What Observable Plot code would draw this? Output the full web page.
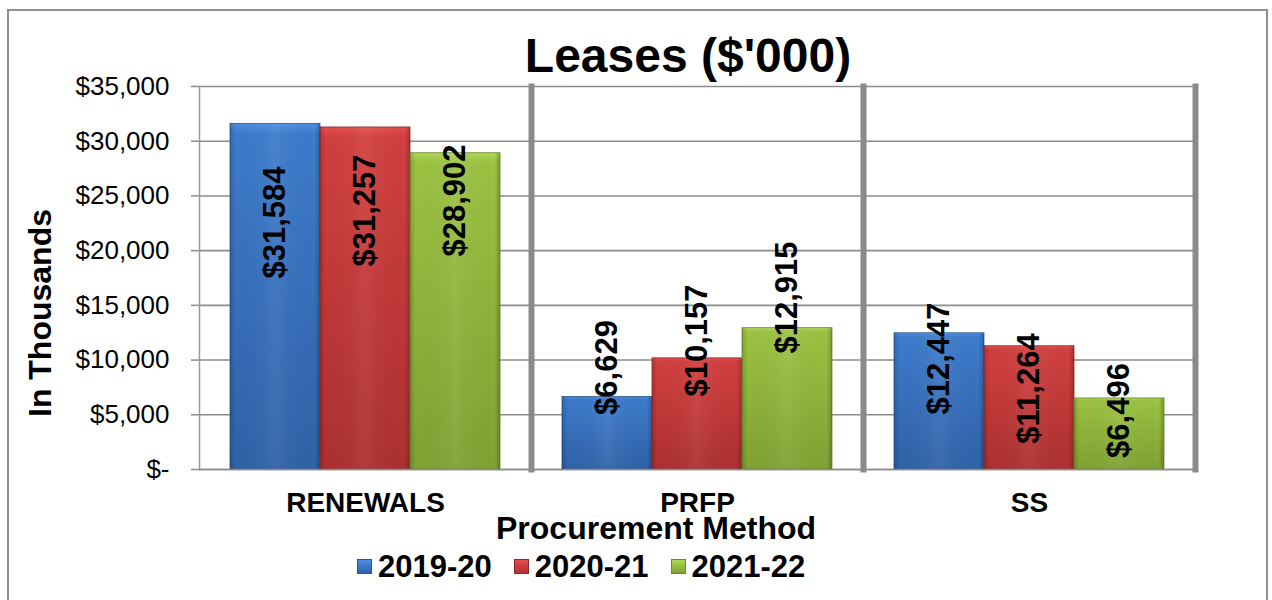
<!DOCTYPE html>
<html>
<head>
<meta charset="utf-8">
<script src="https://cdn.jsdelivr.net/npm/d3@7"></script>
<script src="https://cdn.jsdelivr.net/npm/@observablehq/plot@0.6"></script>
<style>
  body { margin: 0; background: #fff; font-family: "Liberation Sans", Arial, sans-serif; }
  #wrap { position: relative; width: 1272px; height: 600px; overflow: hidden; background: #fff; }
  #border { position: absolute; left: 7px; top: 9px; width: 1261px; height: 640px; border: 2px solid #8e8e8e; box-sizing: border-box; }
  #title { position: absolute; left: 288px; width: 800px; top: 32px; height: 48px; line-height: 48px; font-size: 48px; font-weight: bold; text-align: center; color: #000; white-space: nowrap; }
  #chart { position: absolute; left: 0; top: 70px; }
  #ytitle { position: absolute; left: -110px; top: 297px; width: 300px; height: 32px; line-height: 32px; font-size: 32px; font-weight: bold; text-align: center; transform: rotate(-90deg); transform-origin: 50% 50%; white-space: nowrap; }
  #xtitle { position: absolute; left: 456px; width: 400px; top: 512px; height: 32px; line-height: 32px; font-size: 32px; font-weight: bold; text-align: center; white-space: nowrap; }
  #legend { position: absolute; left: 357px; top: 551px; height: 31px; display: flex; align-items: center; font-size: 31px; line-height: 31px; font-weight: bold; white-space: nowrap; }
  .item { display: flex; align-items: center; margin-right: 22px; }
  .sw { width: 15px; height: 15px; margin-right: 6px; box-sizing: border-box; }
</style>
</head>
<body>
<div id="wrap">
  <div id="border"></div>
  <div id="title">Leases ($'000)</div>
  <div id="chart"></div>
  <div id="ytitle">In Thousands</div>
  <div id="xtitle">Procurement Method</div>
  <div id="legend"></div>
</div>
<script>
// ---- data ----
const categories = ["RENEWALS", "PRFP", "SS"];
const seriesNames = ["2019-20", "2020-21", "2021-22"];
const values2019 = [31584, 6629, 12447];
const values2020 = [31257, 10157, 11264];
const values2021 = [28902, 12915, 6496];
// where each rotated value label sits (in $ thousands)
const labelAt2019 = [22570, 9320, 10140];
const labelAt2020 = [23670, 11790, 7400];
const labelAt2021 = [24580, 15720, 5390];
const yTicks = [0, 5000, 10000, 15000, 20000, 25000, 30000, 35000];

const seriesColors = [
  {top: "#4d90e0", mid: "#3d7bcc", bottom: "#2f62a8", stroke: "#2a5590"},
  {top: "#e45050", mid: "#d23f3f", bottom: "#ad3030", stroke: "#8e2a2a"},
  {top: "#b0d65a", mid: "#9bc242", bottom: "#7fa233", stroke: "#6a8a2c"}
];

const valuesBySeries = [values2019, values2020, values2021];
const labelsBySeries = [labelAt2019, labelAt2020, labelAt2021];
const data = categories.flatMap((c, i) => seriesNames.map((s, j) => ({
  category: c, series: s, sIndex: j, value: valuesBySeries[j][i], labelY: labelsBySeries[j][i]
})));

const fmtY = d => d === 0 ? "$-" : "$" + d3.format(",")(d);
const fmtV = d => "$" + d3.format(",")(d);

const barMarks = seriesNames.flatMap((s, j) => [
  Plot.barY(data.filter(d => d.sIndex === j), {
    fx: "category", x: "series", y: "value",
    fill: `url(#grad${j})`, stroke: seriesColors[j].stroke, strokeWidth: 0.8
  }),
  Plot.barY(data.filter(d => d.sIndex === j), {
    fx: "category", x: "series", y: "value",
    fill: "url(#bevelH)", stroke: "none"
  })
]);

const chart = Plot.plot({
  width: 1272,
  height: 470,
  marginTop: 16,
  marginBottom: 71,
  marginLeft: 199,
  marginRight: 77,
  style: { fontFamily: "'Liberation Sans', Arial, sans-serif", background: "transparent", color: "#000", overflow: "visible" },
  fx: { domain: categories, padding: 0, label: null },
  x: { domain: seriesNames, paddingInner: 0, paddingOuter: 0.344, axis: null },
  y: { domain: [0, 35000], label: null },
  marks: [
    Plot.gridY(yTicks, { stroke: "#8c8c8c", strokeOpacity: 1, strokeWidth: 1.6 }),
    Plot.frame({ anchor: "left", stroke: "#9a9a9a", strokeOpacity: 1, strokeWidth: 1.5 }),
    Plot.frame({ anchor: "right", stroke: "#8a8a8a", strokeOpacity: 1, strokeWidth: 6 }),
    ...barMarks,
    Plot.ruleY([0], { stroke: "#8c8c8c", strokeWidth: 1.6 }),
    Plot.text(data, {
      fx: "category", x: "series", y: "labelY", text: d => fmtV(d.value),
      rotate: -90, fontSize: 31, fontWeight: "bold", fill: "#000"
    }),
    Plot.axisY(yTicks, {
      tickFormat: fmtY, fontSize: 26, tickSize: 8, tickPadding: 22,
      stroke: "#8c8c8c", strokeWidth: 1.5, label: null
    }),
    Plot.axisFx({
      anchor: "bottom", tickSize: 0, tickPadding: 23, fontSize: 28, fontWeight: "bold", label: null
    })
  ]
});

// gradients for the 3D-looking bars
const svg = d3.select(chart);
const defs = svg.insert("defs", ":first-child");
seriesColors.forEach((c, j) => {
  const g = defs.append("linearGradient").attr("id", `grad${j}`)
    .attr("x1", 0).attr("y1", 0).attr("x2", 0).attr("y2", 1);
  g.append("stop").attr("offset", "0%").attr("stop-color", c.top);
  g.append("stop").attr("offset", "3%").attr("stop-color", c.mid);
  g.append("stop").attr("offset", "100%").attr("stop-color", c.bottom);
});
const bh = defs.append("linearGradient").attr("id", "bevelH")
  .attr("x1", 0).attr("y1", 0).attr("x2", 1).attr("y2", 0);
[["0%", "#000", 0.18], ["6%", "#000", 0.0], ["50%", "#fff", 0.06], ["94%", "#000", 0.0], ["100%", "#000", 0.22]]
  .forEach(([o, c, a]) => bh.append("stop").attr("offset", o).attr("stop-color", c).attr("stop-opacity", a));

document.getElementById("chart").appendChild(chart);

// legend
const legend = d3.select("#legend");
seriesNames.forEach((s, j) => {
  const c = seriesColors[j];
  const item = legend.append("div").attr("class", "item");
  item.append("div").attr("class", "sw")
    .style("background", `linear-gradient(to bottom, ${c.top}, ${c.mid} 40%, ${c.bottom})`)
    .style("border", `1px solid ${c.stroke}`);
  item.append("span").text(s);
});
</script>
</body>
</html>
